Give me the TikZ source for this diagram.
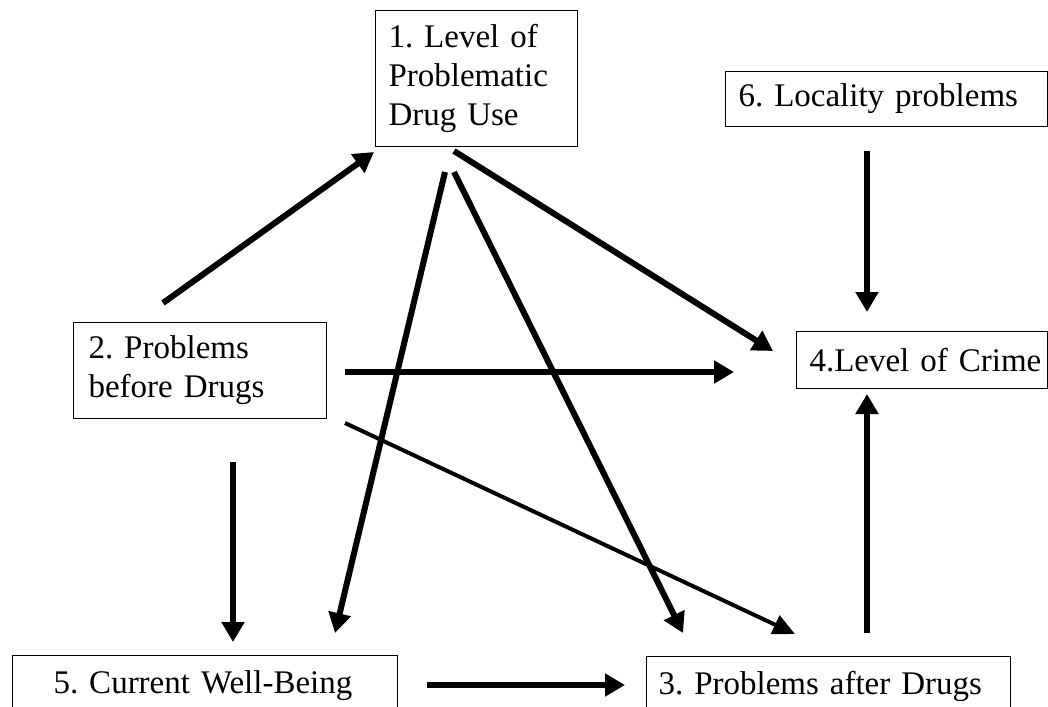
\documentclass[tikz,border=0pt]{standalone}
\usepackage{fontspec}
\setmainfont{Liberation Serif}
\usetikzlibrary{arrows.meta}
\begin{document}
\begin{tikzpicture}[x=1pt,y=-1pt,
  box/.style={draw, line width=1pt, anchor=north west, align=left, inner ysep=0pt,
    font=\fontsize{33}{39}\selectfont\frenchspacing},
  arr/.style={line width=6pt, -{Triangle[length=20pt,width=22pt]}},
  thinarr/.style={line width=4pt, -{Triangle[length=22pt,width=20pt]}}]
\clip (0,0) rectangle (1048,706);
\fill[white] (0,0) rectangle (1048,706);
% boxes
\node[box, inner xsep=13pt, text width=176pt, minimum height=136pt] (n1) at (375,10)
  {\mbox{1. Level of}\\\mbox{Problematic}\\\mbox{Drug Use}};
\node[box, inner xsep=13pt, text width=296pt, minimum height=55pt] (n6) at (725,71)
  {\mbox{6. Locality problems}};
\node[box, inner xsep=15pt, text width=223pt, minimum height=96pt] (n2) at (73,322)
  {\mbox{2. Problems}\\\mbox{before Drugs}};
\node[box, inner xsep=13pt, text width=225pt, minimum height=57pt] (n4) at (796,331)
  {\mbox{4.Level of Crime}};
\node[box, inner xsep=41pt, text width=303pt, minimum height=60pt] (n5) at (12,655)
  {\mbox{5. Current Well-Being}};
\node[box, inner xsep=12pt, text width=340pt, minimum height=60pt] (n3) at (646,656)
  {\mbox{3. Problems after Drugs}};
% connector end points
\coordinate (a21s) at (163,303); \coordinate (a21e) at (374,152);
\coordinate (a14s) at (454,151); \coordinate (a14e) at (773,351);
\coordinate (a15s) at (445,172); \coordinate (a15e) at (335,633);
\coordinate (a13s) at (454,172); \coordinate (a13e) at (683,633);
\coordinate (a64s) at (867,151); \coordinate (a64e) at (867,312);
\coordinate (a24s) at (345,372); \coordinate (a24e) at (734,372);
\coordinate (a23s) at (345,423); \coordinate (a23e) at (795,634);
\coordinate (a25s) at (233,462); \coordinate (a25e) at (233,642);
\coordinate (a53s) at (427,685); \coordinate (a53e) at (625,685);
\coordinate (a34s) at (867,633); \coordinate (a34e) at (867,394);
% connectors
\draw[arr] (a21s) -- (a21e);
\draw[arr] (a14s) -- (a14e);
\draw[arr] (a15s) -- (a15e);
\draw[arr] (a13s) -- (a13e);
\draw[arr] (a64s) -- (a64e);
\draw[arr] (a24s) -- (a24e);
\draw[thinarr] (a23s) -- (a23e);
\draw[arr] (a25s) -- (a25e);
\draw[arr] (a53s) -- (a53e);
\draw[arr] (a34s) -- (a34e);
\end{tikzpicture}
\end{document}
